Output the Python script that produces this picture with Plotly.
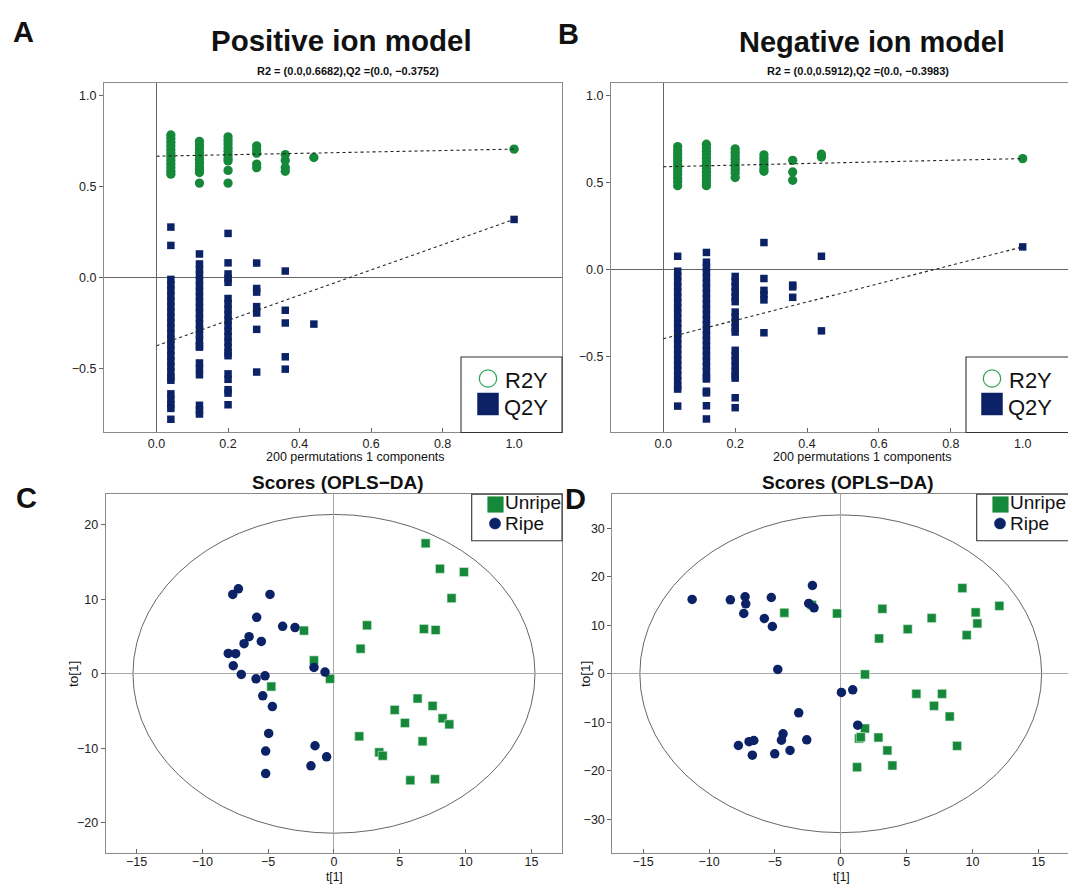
import plotly.graph_objects as go

W, H = 1068, 885
GREEN = "#16883a"
NAVY = "#0b2266"
FONT = "Liberation Sans, Arial, Helvetica, sans-serif"

# ---------------- permutation tests (200 permutations, 1 component) ----------------
perm_cols = [0.04, 0.12, 0.20, 0.28, 0.36, 0.44]

# positive ion mode
pos_r2 = [
    [0.785, 0.765, 0.745, 0.725, 0.705, 0.685, 0.665, 0.645, 0.625, 0.605, 0.585, 0.569],
    [0.75, 0.73, 0.71, 0.69, 0.67, 0.65, 0.63, 0.61, 0.595, 0.578, 0.52],
    [0.775, 0.755, 0.735, 0.715, 0.695, 0.675, 0.655, 0.642, 0.59, 0.52],
    [0.725, 0.705, 0.685, 0.625, 0.605],
    [0.677, 0.645, 0.605, 0.585],
    [0.661],
]
pos_q2 = [
    [0.278, 0.177, -0.01, -0.04, -0.07, -0.10, -0.13, -0.16, -0.19, -0.22, -0.25, -0.28,
     -0.31, -0.34, -0.37, -0.40, -0.43, -0.46, -0.49, -0.52, -0.55, -0.565,
     -0.64, -0.67, -0.70, -0.72, -0.78],
    [0.13, 0.075, 0.045, 0.015, -0.015, -0.045, -0.075, -0.105, -0.135, -0.165, -0.195,
     -0.225, -0.255, -0.285, -0.315, -0.345, -0.375, -0.383,
     -0.47, -0.50, -0.535, -0.703, -0.73, -0.751],
    [0.243, 0.081, 0.02, -0.005, -0.026, -0.115, -0.145, -0.175, -0.205, -0.235, -0.265,
     -0.295, -0.325, -0.355, -0.385, -0.415, -0.43, -0.53, -0.56, -0.617, -0.636, -0.70],
    [0.08, -0.06, -0.08, -0.16, -0.195, -0.285, -0.52],
    [0.036, -0.18, -0.25, -0.436, -0.504],
    [-0.256],
]
pos_r2_model, pos_q2_model = 0.707, 0.32
pos_r2_intercept, pos_q2_intercept = 0.6682, -0.3752

# negative ion mode
neg_r2 = [
    [0.707, 0.685, 0.665, 0.645, 0.625, 0.605, 0.585, 0.565, 0.545, 0.525, 0.505, 0.482],
    [0.721, 0.70, 0.68, 0.66, 0.64, 0.62, 0.60, 0.58, 0.56, 0.54, 0.52, 0.50, 0.482],
    [0.694, 0.675, 0.655, 0.635, 0.615, 0.595, 0.575, 0.555, 0.529],
    [0.66, 0.64, 0.62, 0.60, 0.58, 0.565],
    [0.628, 0.561, 0.513],
    [0.663, 0.647],
]
neg_q2 = [
    [0.076, -0.01, -0.04, -0.07, -0.10, -0.13, -0.16, -0.19, -0.22, -0.25, -0.28, -0.31,
     -0.34, -0.37, -0.40, -0.43, -0.46, -0.49, -0.52, -0.55, -0.58, -0.61, -0.64, -0.67,
     -0.688, -0.786],
    [0.098, 0.042, 0.012, -0.018, -0.048, -0.078, -0.108, -0.138, -0.168, -0.198, -0.228,
     -0.258, -0.288, -0.318, -0.348, -0.378, -0.408, -0.438, -0.468, -0.498, -0.528,
     -0.558, -0.588, -0.618, -0.63, -0.70, -0.71, -0.784, -0.86],
    [-0.04, -0.07, -0.10, -0.13, -0.16, -0.185, -0.245, -0.275, -0.305, -0.335, -0.36,
     -0.465, -0.495, -0.525, -0.555, -0.585, -0.61, -0.625, -0.738, -0.795],
    [0.155, -0.052, -0.12, -0.145, -0.175, -0.364],
    [-0.09, -0.10, -0.16],
    [0.076, -0.353],
]
neg_r2_model, neg_q2_model = 0.638, 0.13
neg_r2_intercept, neg_q2_intercept = 0.5912, -0.3983

# ---------------- OPLS-DA scores ----------------
pos_unripe_t = [6.96, 8.05, 9.87, 8.93, 6.83, 7.72, 2.51, 2.02, -2.28, -1.52, -0.30, -4.76,
                6.35, 7.49, 4.61, 8.25, 8.76, 5.39, 6.73, 1.92, 3.44, 3.70, 5.80, 7.67]
pos_unripe_to = [17.52, 14.10, 13.66, 10.15, 6.02, 5.88, 6.51, 3.37, 5.80, 1.80, -0.67, -1.71,
                 -3.32, -4.31, -4.85, -5.98, -6.79, -6.60, -9.07, -8.40, -10.55, -11.00, -14.30, -14.15]
pos_ripe_t = [-7.69, -7.26, -4.86, -5.87, -3.90, -2.96, -6.45, -6.83, -5.52, -8.03, -7.47, -7.65,
              -7.04, -5.92, -5.24, -1.52, -0.68, -5.41, -4.68, -4.96, -5.19, -5.19, -1.44, -1.75, -0.56]
pos_ripe_to = [10.65, 11.41, 10.65, 7.59, 6.38, 6.20, 4.99, 4.04, 4.35, 2.74, 2.70, 1.08,
               -0.09, -0.67, -0.27, 0.85, 0.23, -2.96, -4.40, -8.00, -10.38, -13.40, -9.66, -12.35, -11.14]

neg_unripe_t = [-4.28, -2.20, -0.28, 3.16, 2.91, 5.08, 6.90, 9.23, 10.24, 10.37, 9.56, 12.04, 1.84,
                5.74, 7.69, 7.08, 8.27, 8.83, 1.84, 1.39, 1.52, 2.86, 3.54, 3.92, 1.24]
neg_unripe_to = [12.58, 14.20, 12.43, 13.40, 7.28, 9.20, 11.48, 17.66, 12.65, 10.38, 7.97, 14.00, -0.13,
                 -4.12, -4.12, -6.60, -8.80, -14.85, -11.27, -13.33, -13.06, -13.13, -15.80, -18.90, -19.25]
neg_ripe_t = [-11.28, -8.38, -7.26, -7.21, -7.36, -5.80, -5.27, -5.19, -2.15, -2.43, -2.03, -4.78,
              0.05, 0.91, -3.19, 1.29, -4.38, -4.50, -2.58, -3.85, -5.01, -6.71, -7.77, -6.96, -6.60]
neg_ripe_to = [15.32, 15.26, 15.88, 14.43, 12.43, 11.40, 15.73, 9.75, 18.20, 14.50, 13.60, 0.89,
               -3.85, -3.30, -8.04, -10.58, -12.37, -13.68, -13.60, -15.80, -16.50, -16.77, -14.78, -14.00, -13.75]

# Hotelling T2 (95%) ellipse half-axes
pos_ellipse = (15.27, 21.4)
neg_ellipse = (15.25, 32.75)


def flatten(cols, groups):
    xs, ys = [], []
    for c, vals in zip(cols, groups):
        xs += [c] * len(vals)
        ys += vals
    return xs, ys


def px_x(a, b):
    return [a / W, min(b / W, 1.0)]


def px_y(top, bottom):
    return [1 - bottom / H, 1 - top / H]


fig = go.Figure()


def add_permutation(r2, q2, r2_model, q2_model, r2_int, q2_int, xa, ya):
    rx, ry = flatten(perm_cols, r2)
    qx, qy = flatten(perm_cols, q2)
    fig.add_trace(go.Scatter(x=qx + [1.0], y=qy + [q2_model], mode="markers", xaxis=xa, yaxis=ya,
                             marker=dict(symbol="square", size=7.5, color=NAVY, line=dict(width=0)),
                             showlegend=False, hoverinfo="skip"))
    fig.add_trace(go.Scatter(x=rx + [1.0], y=ry + [r2_model], mode="markers", xaxis=xa, yaxis=ya,
                             marker=dict(symbol="circle", size=9.3, color=GREEN, line=dict(width=0)),
                             showlegend=False, hoverinfo="skip"))
    for y0, y1 in [(r2_int, r2_model), (q2_int, q2_model)]:
        fig.add_trace(go.Scatter(x=[0.0, 1.0], y=[y0, y1], mode="lines", xaxis=xa, yaxis=ya,
                                 line=dict(color="#222222", width=1.1, dash="3px,3px"),
                                 showlegend=False, hoverinfo="skip"))


def add_scores(ut, uto, rt, rto, ellipse, xa, ya):
    a, b = ellipse
    fig.add_shape(type="circle", xref=xa, yref=ya, x0=-a, x1=a, y0=-b, y1=b,
                  line=dict(color="#555555", width=0.9), layer="below")
    fig.add_trace(go.Scatter(x=ut, y=uto, mode="markers", xaxis=xa, yaxis=ya,
                             marker=dict(symbol="square", size=9, color=GREEN,
                                         line=dict(width=0.6, color="#d8eedc")),
                             showlegend=False, hoverinfo="skip"))
    fig.add_trace(go.Scatter(x=rt, y=rto, mode="markers", xaxis=xa, yaxis=ya,
                             marker=dict(symbol="circle", size=9.5, color=NAVY, line=dict(width=0)),
                             showlegend=False, hoverinfo="skip"))


add_permutation(pos_r2, pos_q2, pos_r2_model, pos_q2_model, pos_r2_intercept, pos_q2_intercept, "x", "y")
add_permutation(neg_r2, neg_q2, neg_r2_model, neg_q2_model, neg_r2_intercept, neg_q2_intercept, "x2", "y2")
add_scores(pos_unripe_t, pos_unripe_to, pos_ripe_t, pos_ripe_to, pos_ellipse, "x3", "y3")
add_scores(neg_unripe_t, neg_unripe_to, neg_ripe_t, neg_ripe_to, neg_ellipse, "x4", "y4")

tickfont = dict(family=FONT, size=12.5, color="#222222")


def axis(domain, rng, dtick, fmt, zcolor, anchor, ticks, standoff=None):
    d = dict(domain=domain, range=rng, dtick=dtick, tick0=0, tickformat=fmt,
             showgrid=False, zeroline=True, zerolinecolor=zcolor, zerolinewidth=1,
             showline=True, linecolor="#8a8a8a", linewidth=1, mirror=True,
             ticks=ticks, ticklen=4, tickcolor="#666666", tickfont=tickfont,
             anchor=anchor, fixedrange=True)
    if standoff is not None:
        d["ticklabelstandoff"] = standoff
    return d


fig.update_layout(
    width=W, height=H, autosize=False,
    margin=dict(l=0, r=0, t=0, b=0),
    paper_bgcolor="white", plot_bgcolor="white",
    font=dict(family=FONT, color="#111111"),
    xaxis=axis(px_x(104, 562), [-0.147, 1.134], 0.2, ".1f", "#666666", "y", "inside"),
    yaxis=axis(px_y(83, 432), [-0.85, 1.071], 0.5, ".1f", "#666666", "x", "outside"),
    xaxis2=axis(px_x(611, 1068), [-0.1455, 1.126], 0.2, ".1f", "#666666", "y2", "inside"),
    yaxis2=axis(px_y(83, 432), [-0.935, 1.073], 0.5, ".1f", "#666666", "x2", "outside"),
    xaxis3=axis(px_x(105.7, 562), [-17.34, 17.32], 5, "d", "#a8a8a8", "y3", "inside", -3),
    yaxis3=axis(px_y(494.3, 853.3), [-24.1, 24.1], 10, "d", "#a8a8a8", "x3", "outside"),
    xaxis4=axis(px_x(612.3, 1068), [-17.34, 17.25], 5, "d", "#a8a8a8", "y4", "inside", -3),
    yaxis4=axis(px_y(494.3, 853.3), [-37.0, 37.0], 10, "d", "#a8a8a8", "x4", "outside"),
)


def pt(x, y):
    return x / W, 1 - y / H


def text(x, y, s, size, bold=False, xanchor="center", angle=0, yanchor="middle"):
    px, py = pt(x, y)
    fig.add_annotation(x=px, y=py, xref="paper", yref="paper", text=f"<b>{s}</b>" if bold else s,
                       showarrow=False, xanchor=xanchor, yanchor=yanchor, textangle=angle,
                       borderpad=0, font=dict(family=FONT, size=size, color="#111111"))


# panel letters and titles
text(23, 32, "A", 29, True)
text(568, 34, "B", 29, True)
text(26, 498, "C", 29, True)
text(575, 499, "D", 29, True)
text(341, 40, "Positive ion model", 29.5, True)
text(872, 42, "Negative ion model", 29, True)
text(348, 71, "R2 = (0.0,0.6682),Q2 =(0.0, \u22120.3752)", 11, True)
text(858, 71, "R2 = (0.0,0.5912),Q2 =(0.0, \u22120.3983)", 11, True)
text(338, 483, "Scores (OPLS\u2212DA)", 19, True)
text(848, 483, "Scores (OPLS\u2212DA)", 19, True)

# axis titles
text(355, 457, "200 permutations 1 components", 12.5)
text(862, 457, "200 permutations 1 components", 12.5)
text(334, 885, "t[1]", 12, yanchor="bottom")
text(841, 885, "t[1]", 12, yanchor="bottom")
text(73, 674, "to[1]", 13.5, angle=-90)
text(585, 674, "to[1]", 13.5, angle=-90)


def rect(x0, y0, x1, y1, fill, line_color, lw):
    ax0, ay0 = pt(x0, y0)
    ax1, ay1 = pt(x1, y1)
    fig.add_shape(type="rect", xref="paper", yref="paper", x0=ax0, y0=ay1, x1=ax1, y1=ay0,
                  fillcolor=fill, line=dict(color=line_color, width=lw), layer="above")


def ring(cx, cy, r, color, fill=None, lw=1.3):
    ax0, ay0 = pt(cx - r, cy + r)
    ax1, ay1 = pt(cx + r, cy - r)
    fig.add_shape(type="circle", xref="paper", yref="paper", x0=ax0, y0=ay0, x1=ax1, y1=ay1,
                  fillcolor=fill if fill else "rgba(0,0,0,0)",
                  line=dict(color=color, width=lw), layer="above")


# R2Y / Q2Y keys
for x0, x1, cx, tx in [(461, 562, 488, 504), (966, 1075, 992, 1008)]:
    rect(x0, 357, x1, 432.5, "white", "#333333", 1.1)
    ring(cx, 378.5, 8.7, "#2fa05a", lw=1.2)
    rect(cx - 10.5, 393, cx + 10.5, 415, NAVY, NAVY, 0.5)
    text(tx, 380, "R2Y", 22, xanchor="left")
    text(tx - 1, 407, "Q2Y", 22, xanchor="left")

# Unripe / Ripe keys
for x0, x1, cx, tx in [(471.7, 562, 495.5, 504), (976.7, 1075, 1000.5, 1009)]:
    rect(x0, 494.3, x1, 540.7, "white", "#333333", 1.1)
    rect(cx - 7.8, 496.7, cx + 7.8, 512.3, GREEN, GREEN, 0.5)
    ring(cx - 0.5, 523.5, 5.6, NAVY, fill=NAVY, lw=0.5)
    text(tx, 503, "Unripe", 19, xanchor="left")
    text(tx, 523, "Ripe", 19, xanchor="left")

fig.write_html("out.html", config={"displayModeBar": False})
